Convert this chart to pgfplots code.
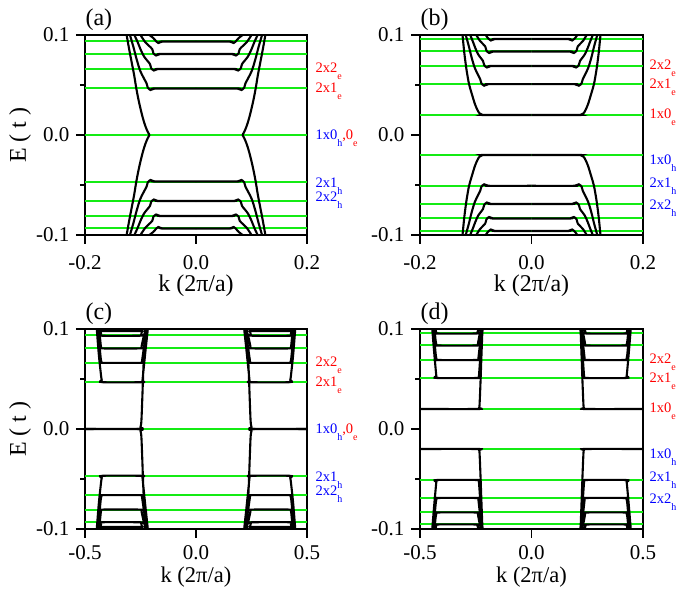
\documentclass[border=0pt]{standalone}
\usepackage{fontspec}
\setmainfont{Liberation Serif}
\usepackage{pgfplots}
\usepackage{pgfplotstable}
\pgfplotsset{compat=1.18}
\definecolor{lev}{RGB}{20,235,20}
\definecolor{lr}{RGB}{255,0,0}
\definecolor{lb}{RGB}{0,0,255}
\newcommand\sub[1]{\raisebox{-7pt}{\fontsize{10}{10}\selectfont #1}}

% panel (a): conduction half (k<0, E>0); mirrored in k and E
\pgfplotstableread{
k E
-0.125 0.1
-0.1205 0.086
-0.116 0.073
-0.1115 0.060
-0.1075 0.0465
-0.1035 0.035
-0.099 0.024
-0.0945 0.0145
-0.0905 0.0078
-0.0868 0.003
-0.0836 0.0
nan nan
-0.119 0.1
-0.1127 0.0879
-0.107 0.0758
-0.1001 0.0636
-0.089 0.0515
-0.087 0.0475
-0.082 0.0450
-0.077 0.0460
-0.074 0.0465
0 0.0465
nan nan
-0.111 0.1
-0.1051 0.0928
-0.0998 0.0855
-0.0934 0.0783
-0.083 0.071
-0.081 0.067
-0.076 0.0645
-0.071 0.0655
-0.068 0.066
0 0.066
nan nan
-0.100 0.1
-0.0916 0.093
-0.079 0.086
-0.077 0.082
-0.072 0.0795
-0.067 0.0805
-0.064 0.081
0 0.081
nan nan
-0.084 0.1
-0.077 0.097
-0.073 0.0945
-0.068 0.092
-0.063 0.093
-0.060 0.0935
0 0.0935
}\bandA

% panel (b)
\pgfplotstableread{
k E
-0.1237 0.1
-0.1205 0.082
-0.1165 0.065
-0.112 0.0508
-0.107 0.041
-0.1015 0.031
-0.0967 0.0247
-0.093 0.0215
-0.088 0.0202
-0.082 0.02
0 0.02
nan nan
-0.118 0.1
-0.1125 0.089
-0.1076 0.0779
-0.1016 0.0669
-0.092 0.0558
-0.090 0.0518
-0.085 0.0493
-0.080 0.0503
-0.077 0.0508
0 0.0508
nan nan
-0.110 0.1
-0.1052 0.0935
-0.1008 0.087
-0.0955 0.0805
-0.087 0.074
-0.085 0.070
-0.080 0.0675
-0.075 0.0685
-0.072 0.069
0 0.069
nan nan
-0.099 0.1
-0.0926 0.0943
-0.083 0.0885
-0.081 0.0845
-0.076 0.082
-0.071 0.083
-0.068 0.0835
0 0.0835
nan nan
-0.082 0.1
-0.079 0.0975
-0.073 0.0945
-0.068 0.0955
-0.065 0.096
0 0.096
}\bandB

% panel (c): left upper block
\pgfplotstableread{
k E
-0.5 0
-0.256 0
-0.250 0.002
-0.246 0.008
-0.242 0.03
-0.238 0.055
-0.233 0.08
-0.229 0.1
nan nan
-0.447 0.1
-0.438 0.075
-0.428 0.054
-0.4245 0.049
-0.421 0.0468
-0.245 0.0468
-0.2415 0.048
-0.240 0.051
-0.229 0.075
-0.217 0.1
nan nan
-0.442 0.1
-0.434 0.082
-0.429 0.0705
-0.426 0.0672
-0.4225 0.0662
-0.247 0.0662
-0.2435 0.0672
-0.242 0.070
-0.232 0.085
-0.221 0.1
nan nan
-0.436 0.1
-0.431 0.088
-0.428 0.0823
-0.4245 0.0806
-0.249 0.0806
-0.2455 0.0816
-0.244 0.084
-0.235 0.093
-0.226 0.1
nan nan
-0.431 0.1
-0.428 0.0955
-0.4255 0.0933
-0.250 0.0933
-0.247 0.0943
-0.244 0.097
-0.239 0.1
nan nan
-0.423 0.1
-0.4205 0.0985
-0.418 0.098
-0.252 0.098
-0.249 0.0985
-0.246 0.1
}\bandC

% panel (d): left upper block
\pgfplotstableread{
k E
-0.5 0.02
-0.240 0.02
-0.2355 0.021
-0.233 0.024
-0.229 0.045
-0.225 0.07
-0.220 0.1
nan nan
-0.445 0.1
-0.437 0.078
-0.429 0.058
-0.4265 0.0530
-0.4235 0.051
-0.240 0.051
-0.2365 0.052
-0.235 0.055
-0.228 0.077
-0.219 0.1
nan nan
-0.440 0.1
-0.433 0.083
-0.429 0.0735
-0.426 0.070
-0.4225 0.069
-0.242 0.069
-0.2385 0.070
-0.237 0.073
-0.230 0.087
-0.223 0.1
nan nan
-0.435 0.1
-0.430 0.0885
-0.4265 0.0845
-0.4235 0.0835
-0.244 0.0835
-0.2405 0.0845
-0.239 0.087
-0.233 0.094
-0.227 0.1
nan nan
-0.430 0.1
-0.4275 0.097
-0.4245 0.0955
-0.246 0.0955
-0.2425 0.0965
-0.240 0.0985
-0.237 0.1
}\bandD

\pgfplotsset{
 panel/.style={scale only axis, width=222pt, height=200pt, anchor=south west,
  ymin=-0.1, ymax=0.1, ytick={-0.1,0,0.1}, yticklabels={-0.1,0.0,0.1},
  minor ytick={-0.05,0.05},
  tick pos=left, tick align=outside,
  major tick length=9pt, minor tick length=5pt,
  every tick/.append style={line width=1.6pt, black},
  axis line style={line width=2pt},
  tick label style={font=\fontsize{21}{21}\selectfont},
  xticklabel style={yshift=-11pt, inner sep=0pt},
  yticklabel style={xshift=-3pt},
  unbounded coords=jump, clip=false,
 },
 lowpanel/.style={xticklabel style={yshift=4pt}},
 band/.style={black, line width=2.1pt, smooth, tension=0.5},
 level/.style={lev, line width=2pt},
}
\tikzset{xlab/.style={font=\fontsize{24}{24}\selectfont, inner sep=0pt},
 xlablow/.style={font=\fontsize{22.5}{22.5}\selectfont, inner sep=0pt}}
\newcommand\fourway[1]{%
 \addplot[band] table[x=k,y=E]{#1};
 \addplot[band] table[x expr=-\thisrow{k},y=E]{#1};
 \addplot[band] table[x=k,y expr=-\thisrow{E}]{#1};
 \addplot[band] table[x expr=-\thisrow{k},y expr=-\thisrow{E}]{#1};
}
\newcommand\labfont{\fontsize{14.5}{14.5}\selectfont}

\begin{document}
\begin{tikzpicture}
\path[use as bounding box] (0,0) rectangle (678pt,591pt);
% (a)
\begin{axis}[panel, at={(85pt,356pt)}, xmin=-0.2, xmax=0.2, xtick={-0.2,0,0.2}, xticklabels={-0.2,0.0,0.2}]
\pgfplotsinvokeforeach{0.0935,0.0806,0.066,0.0467,0,-0.0467,-0.066,-0.0806,-0.0935}{\addplot[level] coordinates {(-0.2,#1) (0.2,#1)};}
\fourway{\bandA}
\node[anchor=base west, font=\fontsize{24}{24}\selectfont] at ([xshift=-3pt,yshift=9pt]rel axis cs:0,1) {(a)};
\node[xlab] at ([yshift=-51pt]rel axis cs:0.5,0) {k (2π/a)};
\node[rotate=90, font=\fontsize{24}{24}\selectfont] at ([xshift=-65pt]rel axis cs:0,0.5) {E ( t )};
\node[anchor=base west, text=lr, font=\labfont] at ([xshift=5pt,yshift=-5pt]axis cs:0.2,0.0679) {2x2\sub{e}};
\node[anchor=base west, text=lr, font=\labfont] at ([xshift=5pt,yshift=-5pt]axis cs:0.2,0.0478) {2x1\sub{e}};
\node[anchor=base west, font=\labfont] at ([xshift=5pt,yshift=-5pt]axis cs:0.2,0.0007) {\textcolor{lb}{1x0\sub{h}}\textcolor{lr}{,0\sub{e}}};
\node[anchor=base west, text=lb, font=\labfont] at ([xshift=5pt,yshift=-5pt]axis cs:0.2,-0.0475) {2x1\sub{h}};
\node[anchor=base west, text=lb, font=\labfont] at ([xshift=5pt,yshift=-5pt]axis cs:0.2,-0.0616) {2x2\sub{h}};
\end{axis}
% (b)
\begin{axis}[panel, width=223pt, at={(420pt,356pt)}, xmin=-0.2, xmax=0.2, xtick={-0.2,0,0.2}, xticklabels={-0.2,0.0,0.2}]
\pgfplotsinvokeforeach{0.0957,0.0835,0.069,0.051,0.02,-0.02,-0.051,-0.069,-0.0835,-0.0957}{\addplot[level] coordinates {(-0.2,#1) (0.2,#1)};}
\fourway{\bandB}
\node[anchor=base west, font=\fontsize{24}{24}\selectfont] at ([xshift=-3pt,yshift=9pt]rel axis cs:0,1) {(b)};
\node[xlab] at ([yshift=-51pt]rel axis cs:0.5,0) {k (2π/a)};
\node[anchor=base west, text=lr, font=\labfont] at ([xshift=3pt,yshift=-5pt]axis cs:0.2,0.0709) {2x2\sub{e}};
\node[anchor=base west, text=lr, font=\labfont] at ([xshift=3pt,yshift=-5pt]axis cs:0.2,0.0518) {2x1\sub{e}};
\node[anchor=base west, text=lr, font=\labfont] at ([xshift=3pt,yshift=-5pt]axis cs:0.2,0.0217) {1x0\sub{e}};
\node[anchor=base west, text=lb, font=\labfont] at ([xshift=3pt,yshift=-5pt]axis cs:0.2,-0.0244) {1x0\sub{h}};
\node[anchor=base west, text=lb, font=\labfont] at ([xshift=3pt,yshift=-5pt]axis cs:0.2,-0.0475) {2x1\sub{h}};
\node[anchor=base west, text=lb, font=\labfont] at ([xshift=3pt,yshift=-5pt]axis cs:0.2,-0.0696) {2x2\sub{h}};
\end{axis}
% (c)
\begin{axis}[panel, lowpanel, at={(85pt,62pt)}, xmin=-0.5, xmax=0.5, xtick={-0.5,0,0.5}, xticklabels={-0.5,0.0,0.5}]
\pgfplotsinvokeforeach{0.0935,0.0806,0.066,0.0467,0,-0.0467,-0.066,-0.0806,-0.0935}{\addplot[level] coordinates {(-0.5,#1) (0.5,#1)};}
\fourway{\bandC}
\node[anchor=base west, font=\fontsize{24}{24}\selectfont] at ([xshift=-3pt,yshift=9pt]rel axis cs:0,1) {(c)};
\node[xlablow] at ([yshift=-48pt]rel axis cs:0.5,0) {k (2π/a)};
\node[rotate=90, font=\fontsize{24}{24}\selectfont] at ([xshift=-65pt]rel axis cs:0,0.5) {E ( t )};
\node[anchor=base west, text=lr, font=\labfont] at ([xshift=5pt,yshift=-5pt]axis cs:0.5,0.0679) {2x2\sub{e}};
\node[anchor=base west, text=lr, font=\labfont] at ([xshift=5pt,yshift=-5pt]axis cs:0.5,0.0478) {2x1\sub{e}};
\node[anchor=base west, font=\labfont] at ([xshift=5pt,yshift=-5pt]axis cs:0.5,0.0007) {\textcolor{lb}{1x0\sub{h}}\textcolor{lr}{,0\sub{e}}};
\node[anchor=base west, text=lb, font=\labfont] at ([xshift=5pt,yshift=-5pt]axis cs:0.5,-0.0475) {2x1\sub{h}};
\node[anchor=base west, text=lb, font=\labfont] at ([xshift=5pt,yshift=-5pt]axis cs:0.5,-0.0616) {2x2\sub{h}};
\end{axis}
% (d)
\begin{axis}[panel, lowpanel, width=223pt, at={(420pt,62pt)}, xmin=-0.5, xmax=0.5, xtick={-0.5,0,0.5}, xticklabels={-0.5,0.0,0.5}]
\pgfplotsinvokeforeach{0.0955,0.0835,0.069,0.051,0.0197,-0.0197,-0.051,-0.069,-0.0835,-0.0955}{\addplot[level] coordinates {(-0.5,#1) (0.5,#1)};}
\fourway{\bandD}
\node[anchor=base west, font=\fontsize{24}{24}\selectfont] at ([xshift=-3pt,yshift=9pt]rel axis cs:0,1) {(d)};
\node[xlablow] at ([yshift=-48pt]rel axis cs:0.5,0) {k (2π/a)};
\node[anchor=base west, text=lr, font=\labfont] at ([xshift=3pt,yshift=-5pt]axis cs:0.5,0.0709) {2x2\sub{e}};
\node[anchor=base west, text=lr, font=\labfont] at ([xshift=3pt,yshift=-5pt]axis cs:0.5,0.0518) {2x1\sub{e}};
\node[anchor=base west, text=lr, font=\labfont] at ([xshift=3pt,yshift=-5pt]axis cs:0.5,0.0217) {1x0\sub{e}};
\node[anchor=base west, text=lb, font=\labfont] at ([xshift=3pt,yshift=-5pt]axis cs:0.5,-0.0244) {1x0\sub{h}};
\node[anchor=base west, text=lb, font=\labfont] at ([xshift=3pt,yshift=-5pt]axis cs:0.5,-0.0475) {2x1\sub{h}};
\node[anchor=base west, text=lb, font=\labfont] at ([xshift=3pt,yshift=-5pt]axis cs:0.5,-0.0696) {2x2\sub{h}};
\end{axis}
\end{tikzpicture}
\end{document}
